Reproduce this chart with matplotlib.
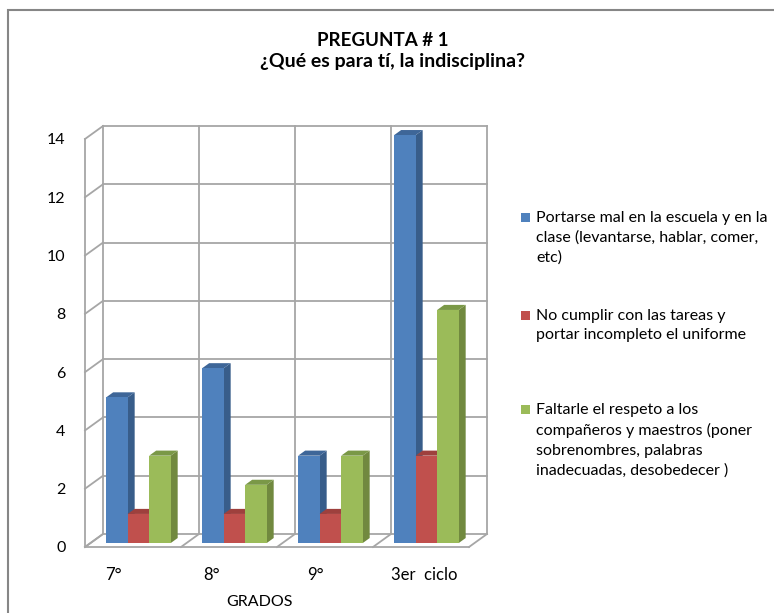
import matplotlib.pyplot as plt
from matplotlib.patches import Polygon, Rectangle

plt.rcParams['font.family'] = ['Lato', 'DejaVu Sans']

# Datos
grados = ['7°', '8°', '9°', '3er  ciclo']
portarse_mal = [5, 6, 3, 14]
no_cumplir = [1, 1, 1, 3]
faltar_respeto = [3, 2, 3, 8]
series = [portarse_mal, no_cumplir, faltar_respeto]
etiquetas = [
    'Portarse mal en la escuela y en la\nclase (levantarse, hablar, comer,\netc)',
    'No cumplir con las tareas y\nportar incompleto el uniforme',
    'Faltarle el respeto a los\ncompañeros y maestros (poner\nsobrenombres, palabras\ninadecuadas, desobedecer )',
]
yticks = list(range(0, 15, 2))

# colores: cara frontal, lateral, superior
colores = [
    ('#4F81BD', '#385D8A', '#3E6698'),
    ('#C0504D', '#8C3836', '#9E403D'),
    ('#9BBB59', '#71893F', '#7A9847'),
]
gris = '#A6A6A6'

W, H = 774, 613
fig = plt.figure(figsize=(W / 100, H / 100), dpi=100)

# borde del gráfico
fig.patches.append(Rectangle((8 / W, -0.05), 1.1, (H - 10) / H + 0.05,
                             transform=fig.transFigure, fill=False,
                             edgecolor='#868686', linewidth=1.5))

# plano frontal del gráfico 3D
x0, x1, ytop, ybot = 85, 469, 139, 547
ax = fig.add_axes([x0 / W, (H - ybot) / H, (x1 - x0) / W, (ybot - ytop) / H])
ncat = len(grados)
ax.set_xlim(0, ncat)
ax.set_ylim(0, 14)

# profundidad (en unidades de datos)
DX = 18 / ((x1 - x0) / ncat)
DY = 13 / ((ybot - ytop) / 14)

kw = dict(color=gris, lw=1.3, clip_on=False, zorder=1)
# pared del fondo y piso
for v in yticks:
    ax.plot([DX, ncat + DX], [v + DY, v + DY], **kw)
    ax.plot([0, DX], [v, v + DY], **kw)
for i in range(ncat + 1):
    ax.plot([i + DX, i + DX], [DY, 14 + DY], **kw)
    ax.plot([i, i + DX], [0, DY], **kw)
ax.plot([0, 0], [0, 14], **kw)
ax.plot([0, ncat], [0, 0], **kw)

# barras 3D
d0, d1 = 0.3, 0.69
bw, gap = 0.224, 0.164
for i in range(ncat):
    for j, (vals, (cf, cs, ct)) in enumerate(zip(series, colores)):
        v = vals[i]
        xl = i + gap + j * bw + d0 * DX
        xr = xl + bw
        yb = d0 * DY
        yt = v + d0 * DY
        ox, oy = (d1 - d0) * DX, (d1 - d0) * DY
        z = 3 + i * 3 + j
        ax.add_patch(Polygon([(xr, yb), (xr + ox, yb + oy), (xr + ox, yt + oy), (xr, yt)],
                             closed=True, facecolor=cs, edgecolor='none', zorder=z, clip_on=False))
        ax.add_patch(Polygon([(xl, yt), (xl + ox, yt + oy), (xr + ox, yt + oy), (xr, yt)],
                             closed=True, facecolor=ct, edgecolor='none', zorder=z, clip_on=False))
        ax.bar(xl, v, width=bw, bottom=yb, align='edge', color=cf,
               edgecolor='none', zorder=z, clip_on=False)

for s in ax.spines.values():
    s.set_visible(False)
ax.set_yticks(yticks)
ax.set_yticklabels([str(v) for v in yticks], fontsize=11.5)
ax.tick_params(axis='y', length=0, pad=14)
ax.set_xticks([])
xlabel_pos = [0.3, 1.32, 2.4, 3.53]
for p, g in zip(xlabel_pos, grados):
    ax.text(p, -0.95, g, ha='center', va='center', fontsize=12)
ax.text(1.82, -1.9, 'GRADOS', ha='center', va='center', fontsize=11.5)

# títulos
fig.text(383 / W, 1 - 40 / H, 'PREGUNTA # 1', ha='center', va='center',
         fontsize=13.5, fontweight='bold')
fig.text(393 / W, 1 - 62 / H, '¿Qué es para tí, la indisciplina?', ha='center',
         va='center', fontsize=14, fontweight='bold')

# leyenda
leg_y = [218, 316, 410]
for y, lab, (cf, _, _) in zip(leg_y, etiquetas, colores):
    fig.patches.append(Rectangle((521 / W, 1 - (y + 4) / H), 9 / W, 9 / H,
                                 transform=fig.transFigure, facecolor=cf, edgecolor='none'))
    fig.text(536 / W, 1 - (y - 7) / H, lab, ha='left', va='top', fontsize=11.5,
             linespacing=1.5)

fig.savefig('out.png', dpi=100)
